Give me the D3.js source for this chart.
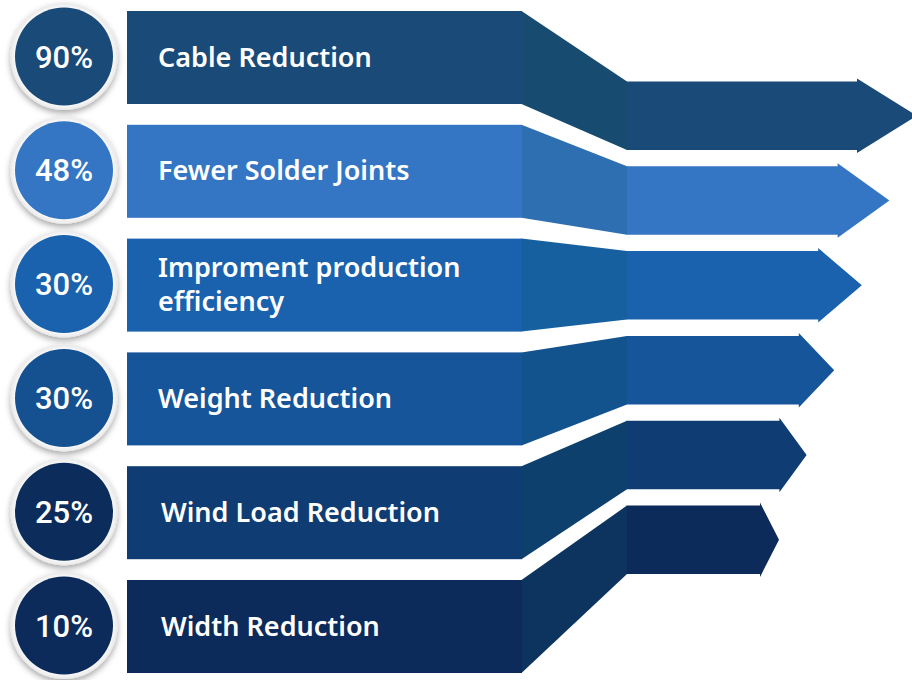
<!DOCTYPE html>
<html>
<head>
<meta charset="utf-8">
<script src="https://cdn.jsdelivr.net/npm/d3@7"></script>
<style>
  html, body { margin: 0; padding: 0; background: #ffffff; }
  svg { display: block; }
</style>
</head>
<body>
<div id="chart"></div>
<script>
// ---- data ----
const labels = [
  ["Cable Reduction"],
  ["Fewer Solder Joints"],
  ["Improment production", "efficiency"],
  ["Weight Reduction"],
  ["Wind Load Reduction"],
  ["Width Reduction"]
];
const values = [90, 48, 30, 30, 25, 10];
const ranks = [0, 1, 2, 3, 4, 5];

// ---- palette ----
const barColors   = ["#1a4a77", "#3476c4", "#1a62ad", "#16559a", "#0f3c72", "#0c2b5a"];
const transColors = ["#174b70", "#2d6fb0", "#1660a0", "#12538e", "#0e406e", "#0c345e"];
const dotColors   = ["#1a4a77", "#3476c4", "#1a62ad", "#155090", "#0c2c5c", "#0c2b5a"];

const W = 912, H = 680;
const svg = d3.select("#chart").append("svg").attr("width", W).attr("height", H);

const defs = svg.append("defs");
const f = defs.append("filter").attr("id", "shadow")
  .attr("x", "-30%").attr("y", "-30%").attr("width", "160%").attr("height", "170%");
f.append("feDropShadow").attr("dx", 0).attr("dy", 3).attr("stdDeviation", 3)
  .attr("flood-color", "#000").attr("flood-opacity", 0.35);
const rg = defs.append("radialGradient").attr("id", "ring");
rg.append("stop").attr("offset", "88%").attr("stop-color", "#ffffff");
rg.append("stop").attr("offset", "100%").attr("stop-color", "#e9e9e9");

const color = d3.scaleOrdinal().domain(ranks).range(barColors);
const tColor = d3.scaleOrdinal().domain(ranks).range(transColors);
const dColor = d3.scaleOrdinal().domain(ranks).range(dotColors);

// scales
const rowY = d3.scaleLinear().domain([0, 5]).range([11, 580]);      // left band top
const rowH = 93;
const arrowY = d3.scaleLinear().domain([0, 5]).range([81.5, 505.5]); // arrow body top
const arrowH = 68.5;
const tipX = d3.scaleLinear().domain([0, 5]).range([917, 779]);
const headX = d3.scaleLinear().domain([0, 5]).range([857, 760]);
const x = d3.scaleLinear().domain([0, 1, 2]).range([127, 522, 627]); // band start, bend start, bend end
const over = 3;

const line = d3.line();
const data = ranks.map(i => ({ i, label: labels[i], value: values[i] }));

const g = svg.append("g");

// arrows
g.selectAll("path.arrow").data(data).join("path").attr("class", "arrow")
  .attr("fill", d => color(d.i))
  .attr("d", d => {
    const t = arrowY(d.i), b = t + arrowH, m = (t + b) / 2;
    return line([[x(2) - 0.5, t], [headX(d.i), t], [headX(d.i), t - over], [tipX(d.i), m],
                 [headX(d.i), b + over], [headX(d.i), b], [x(2) - 0.5, b]]) + "Z";
  });

// transitions
g.selectAll("path.trans").data(data).join("path").attr("class", "trans")
  .attr("fill", d => tColor(d.i))
  .attr("d", d => {
    const t0 = rowY(d.i), b0 = t0 + rowH, t1 = arrowY(d.i), b1 = t1 + arrowH;
    return line([[x(1) - 0.5, t0], [x(2), t1], [x(2), b1], [x(1) - 0.5, b0]]) + "Z";
  });

// left bands
g.selectAll("rect.band").data(data).join("rect").attr("class", "band")
  .attr("x", x(0)).attr("y", d => rowY(d.i))
  .attr("width", x(1) - x(0)).attr("height", rowH)
  .attr("fill", d => color(d.i));

// labels
const lab = g.selectAll("text.label").data(data).join("text").attr("class", "label")
  .attr("x", d => d.i >= 4 ? x(0) + 34 : x(0) + 31)
  .attr("y", d => rowY(d.i) + rowH / 2)
  .attr("fill", "#ffffff")
  .style("font-family", "'Noto Sans', 'Open Sans', sans-serif")
  .style("font-weight", 600)
  .style("font-size", "27px");
lab.each(function(d) {
  const n = d.label.length, lh = 34;
  const sel = d3.select(this);
  d.label.forEach((s, k) => {
    sel.append("tspan").attr("x", sel.attr("x"))
      .attr("y", rowY(d.i) + rowH / 2 + 9 + (k - (n - 1) / 2) * lh)
      .text(s);
  });
});

// circles
const cx = 64;
const cg = g.selectAll("g.dot").data(data).join("g").attr("class", "dot")
  .attr("transform", d => `translate(${cx},${rowY(d.i) + rowH / 2 - 1})`);
cg.append("circle").attr("r", 53.5).attr("fill", "url(#ring)").attr("filter", "url(#shadow)");
cg.append("circle").attr("r", 49).attr("fill", d => dColor(d.i));
cg.append("text").attr("text-anchor", "middle").attr("y", 11)
  .attr("fill", "#ffffff")
  .style("font-family", "Roboto, 'Liberation Sans', Arial, sans-serif")
  .style("font-weight", 500)
  .style("font-size", "31px")
  .text(d => d.value + "%");
</script>
</body>
</html>
